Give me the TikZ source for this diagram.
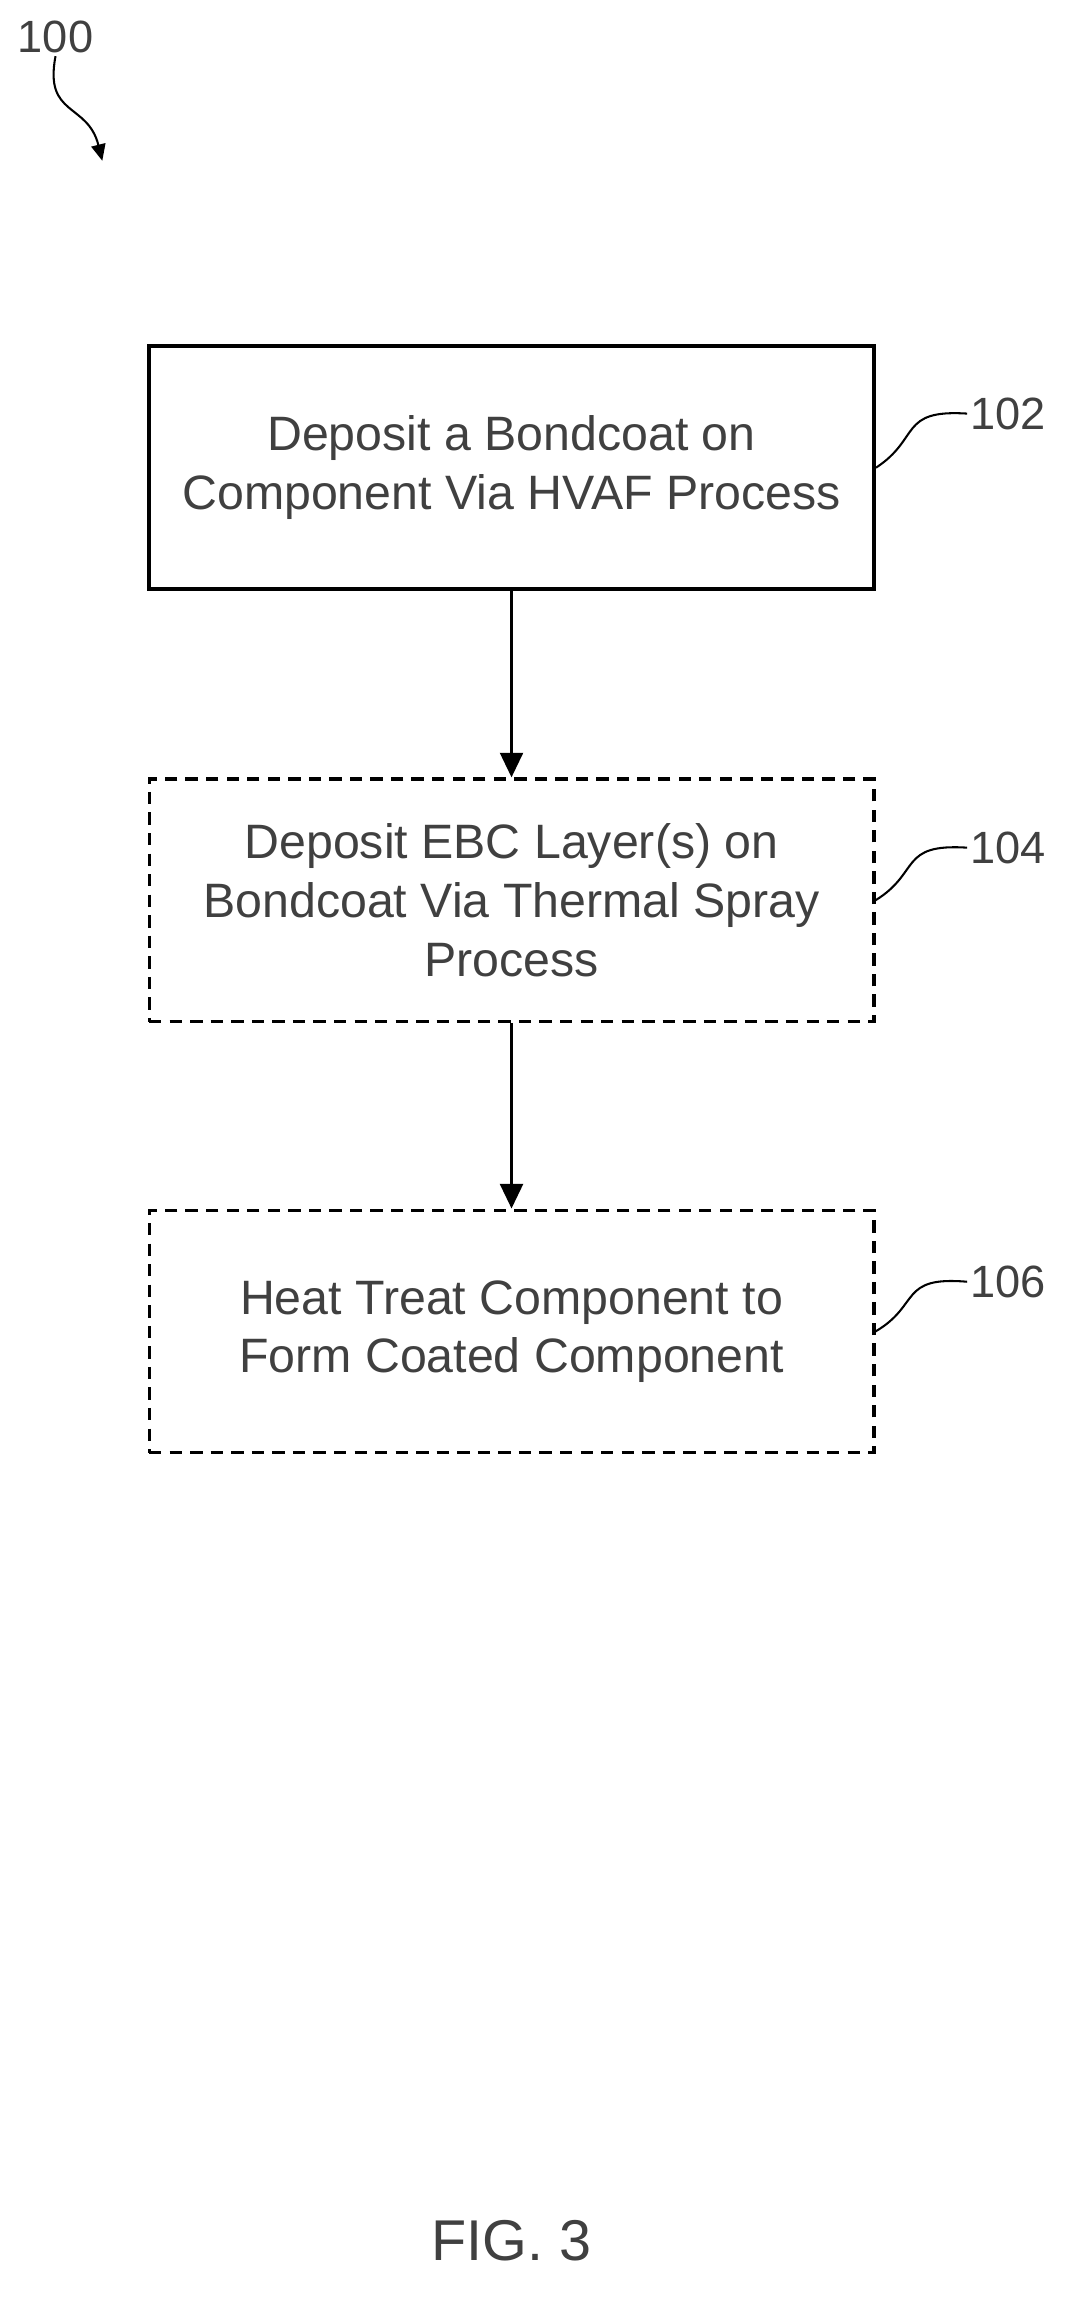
\documentclass[tikz,border=0pt]{standalone}
\usepackage{fontspec}
\setmainfont{Liberation Sans}
\usetikzlibrary{arrows.meta}
\begin{document}
\begin{tikzpicture}[x=0.05cm,y=-0.05cm,
	stepbox/.style={draw,line width=3pt,minimum width=24.8cm,minimum height=8.3cm,align=center,
		font=\fontsize{47}{57}\selectfont,text=black!75},
	optbox/.style={stepbox,dashed,dash pattern=on 12pt off 8pt},
	lbl/.style={font=\fontsize{44}{50}\selectfont,text=black!75},
	arr/.style={-{Triangle[length=24pt,width=22pt]},line width=3.5pt}]
	\useasboundingbox (0,0) rectangle (738,1584);
	\node[stepbox,line width=4pt] (s102) at (350,320) {Deposit a Bondcoat on\\Component Via HVAF Process};
	\node[optbox] (s104) at (350,616) {Deposit EBC Layer(s) on\\Bondcoat Via Thermal Spray\\Process};
	\node[optbox] (s106) at (350,911) {Heat Treat Component to\\Form Coated Component};
	
	\node[lbl] (n102) at (690,283) {102};
	\node[lbl] (n104) at (690,580) {104};
	\node[lbl] (n106) at (690,877) {106};
	\node[lbl] (n100) at (38,25) {100};
	\node[lbl,font=\fontsize{56}{64}\selectfont] (fig) at (350,1533) {FIG. 3};
	\coordinate (p100) at (70,110);
	
	% flechas
	\draw[arr] (s102) -- (s104);
	\draw[arr] (s104) -- (s106);
	
	% referencias
	\draw[line width=2pt] (s102.east) .. controls (630,300) and (615,280) .. (n102.west);
	\draw[line width=2pt] (s104.east) .. controls (630,597) and (615,577) .. (n104.west);
	\draw[line width=2pt] (s106.east) .. controls (630,893) and (615,873) .. (n106.west);
	\draw[line width=2pt,-{Triangle[length=16pt,width=14pt]}] (n100.south) .. controls (30,80) and (60,70) .. (p100);
\end{tikzpicture}
\end{document}
